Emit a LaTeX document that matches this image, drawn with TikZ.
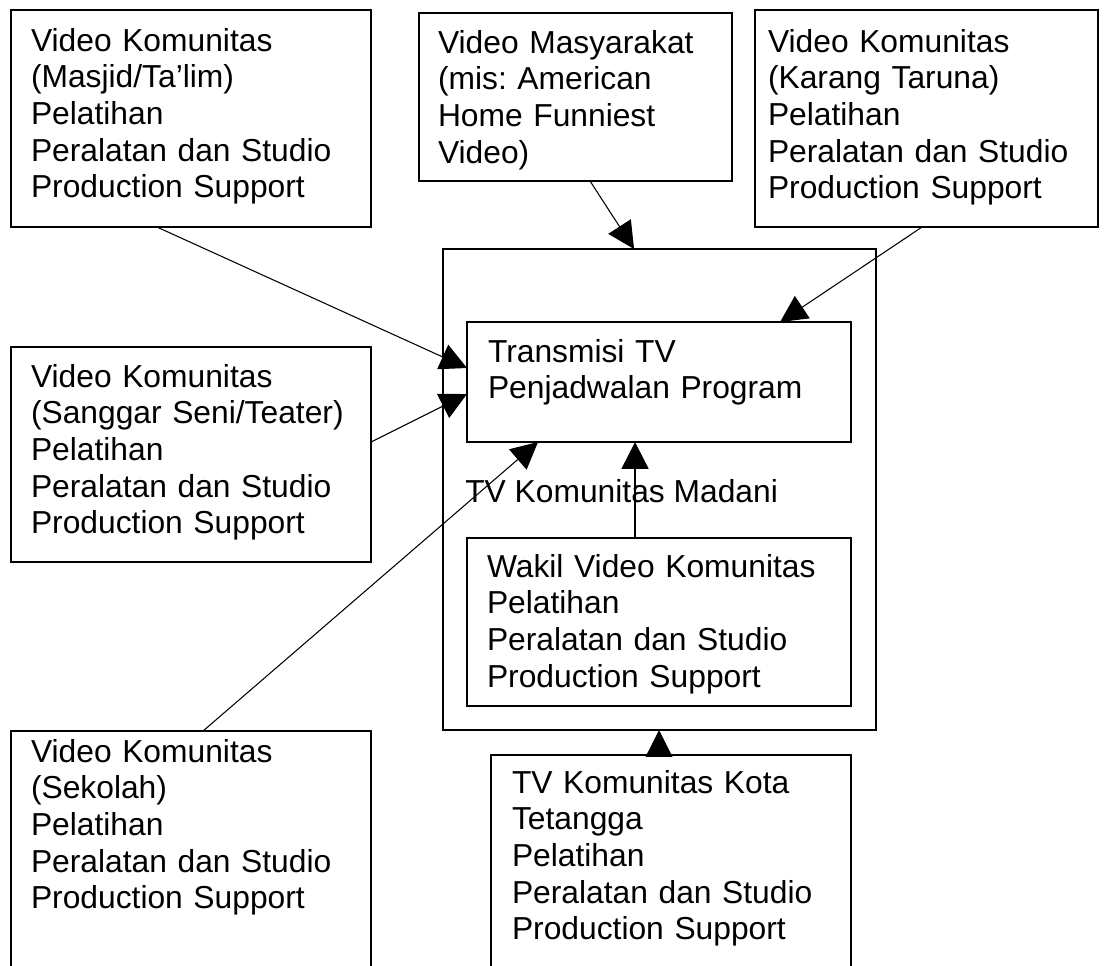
\documentclass[tikz,border=0pt]{standalone}
\usepackage{fontspec}
\setmainfont{Liberation Sans}
\usetikzlibrary{arrows.meta}
\frenchspacing

\begin{document}
\begin{tikzpicture}[
      x=0.025cm, y=-0.025cm,
      font=\fontsize{22.6pt}{26.1pt}\selectfont,
      box/.style={rectangle, draw=black, line width=1.1pt, anchor=north west,
          align=left, inner ysep=0pt, outer sep=0pt},
      arr/.style={line width=0.75pt, -{Triangle[length=19pt, width=19pt]}},
      thickarr/.style={arr, line width=1.5pt}
    ]
    \clip (0,0) rectangle (1107,966);

    % sources at the top and on the left
    \node[box, text width=8cm, inner xsep=0.5cm, text height=1.025cm, text depth=4.4cm] (masjid) at (11,10)
      {Video Komunitas\\(Masjid/Ta’lim)\\Pelatihan\\Peralatan dan Studio\\Production Support};
    \node[box, text width=6.875cm, inner xsep=0.475cm, text height=1.0cm, text depth=3.2cm] (masyarakat) at (419,13)
      {Video Masyarakat\\(mis: American\\Home Funniest\\Video)};
    \node[box, text width=7.925cm, inner xsep=0.325cm, text height=1.05cm, text depth=4.375cm] (karang) at (755,10)
      {Video Komunitas\\(Karang Taruna)\\Pelatihan\\Peralatan dan Studio\\Production Support};
    \node[box, text width=8cm, inner xsep=0.5cm, text height=1.0cm, text depth=4.375cm] (sanggar) at (11,347)
      {Video Komunitas\\(Sanggar Seni/Teater)\\Pelatihan\\Peralatan dan Studio\\Production Support};

    % TV Komunitas Madani
    \node[box, minimum width=10.825cm, minimum height=12.025cm] (madani) at (443,249) {};
    \node[anchor=base west, inner sep=0pt] (madanilbl) at (465,502) {TV Komunitas Madani};
    \node[box, text width=8.55cm, inner xsep=0.525cm, text height=1.0cm, text depth=2.0cm] (transmisi) at (467,322)
      {Transmisi TV\\Penjadwalan Program};
    \node[box, text width=8.6cm, inner xsep=0.5cm, text height=0.975cm, text depth=3.225cm] (wakil) at (467,538)
      {Wakil Video Komunitas\\Pelatihan\\Peralatan dan Studio\\Production Support};

    % bottom row, cut off by the page
    \node[box, text width=8cm, inner xsep=0.5cm, text height=0.775cm, text depth=7.5cm] (sekolah) at (11,731)
      {Video Komunitas\\(Sekolah)\\Pelatihan\\Peralatan dan Studio\\Production Support};
    \node[box, text width=7.95cm, inner xsep=0.525cm, text height=0.95cm, text depth=7.5cm] (tetangga) at (491,755)
      {TV Komunitas Kota\\Tetangga\\Pelatihan\\Peralatan dan Studio\\Production Support};

    \draw[arr] ([xshift=3.65cm]masjid.south west) -- ([yshift=-1.15cm]transmisi.north west);
    \draw[arr] ([yshift=-2.375cm]sanggar.north east) -- ([yshift=-1.8cm]transmisi.north west);
    \draw[arr] ([xshift=4.275cm]masyarakat.south west) -- ([xshift=4.775cm]madani.north west);
    \draw[arr] ([xshift=4.175cm]karang.south west) -- ([xshift=7.825cm]transmisi.north west);
    \draw[arr] ([xshift=4.8cm]sekolah.north west) -- ([xshift=1.775cm]transmisi.south west);
    \draw[thickarr] ([xshift=4.2cm]wakil.north west) -- ([xshift=4.2cm]transmisi.south west);
    \draw[arr] ([xshift=4.2cm]tetangga.north west) -- ([xshift=5.4cm]madani.south west);
  \end{tikzpicture}
\end{document}
